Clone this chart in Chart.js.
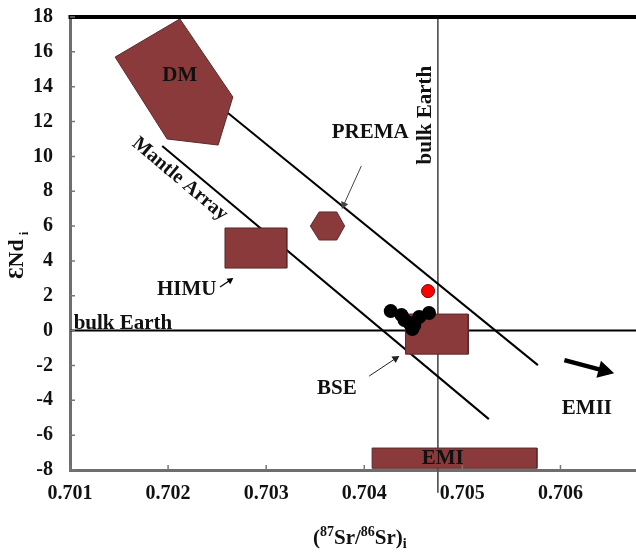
<!DOCTYPE html>
<html>
<head>
<meta charset="utf-8">
<script src="https://cdn.jsdelivr.net/npm/chart.js@4.4.1/dist/chart.umd.min.js"></script>
<style>
  html, body { margin: 0; padding: 0; background: #fff; }
  #wrap { width: 636px; height: 555px; }
</style>
</head>
<body>
<div id="wrap"><canvas id="chart"></canvas></div>
<script>
// ---- axes ----
const xTicks = [0.701, 0.702, 0.703, 0.704, 0.705, 0.706];
const yTicks = [-8, -6, -4, -2, 0, 2, 4, 6, 8, 10, 12, 14, 16, 18];

// ---- samples ----
const sampleSr = [0.70427, 0.70438, 0.70441, 0.70446, 0.70449, 0.70451, 0.70456, 0.70466];
const sampleNd = [1.12, 0.89, 0.61, 0.43, 0.09, 0.32, 0.78, 1.01];
const redSr = [0.70465];
const redNd = [2.27];

// ---- mantle reservoirs (polygon corners) ----
const dmSr = [0.70146, 0.70212, 0.70266, 0.70251, 0.70199, 0.70146];
const dmNd = [15.70, 17.89, 13.41, 10.65, 11.00, 15.70];
const premaSr = [0.70345, 0.70354, 0.70372, 0.70380, 0.70372, 0.70354, 0.70345];
const premaNd = [6.0, 6.81, 6.81, 6.0, 5.20, 5.20, 6.0];
const himuSr = [0.70258, 0.70321, 0.70321, 0.70258, 0.70258];
const himuNd = [5.89, 5.89, 3.59, 3.59, 5.89];
const bseSr = [0.70442, 0.70506, 0.70506, 0.70442, 0.70442];
const bseNd = [0.95, 0.95, -1.35, -1.35, 0.95];
const emiSr = [0.70408, 0.70576, 0.70576, 0.70408, 0.70408];
const emiNd = [-6.74, -6.74, -7.9, -7.9, -6.74];

// ---- lines ----
const premaLineSr = [0.70261, 0.70577];
const premaLineNd = [12.49, -1.98];
const mantleSr = [0.70194, 0.70527];
const mantleNd = [10.59, -5.08];
const bulkVSr = [0.70475, 0.70475];
const bulkVNd = [18, -9.3];
const bulkHSr = [0.701, 0.70677];
const bulkHNd = [0, 0];

// ---- arrows (tail -> head) ----
const arrPremaSr = [0.70397, 0.70378];
const arrPremaNd = [9.45, 7.09];
const arrHimuSr = [0.70253, 0.70265];
const arrHimuNd = [2.50, 2.96];
const arrBseSr = [0.70405, 0.70434];
const arrBseNd = [-2.61, -1.52];
const arrEmiiSr = [0.70604, 0.70650];
const arrEmiiNd = [-1.69, -2.38];

const pts = (xs, ys) => xs.map((x, i) => ({ x: x, y: ys[i] }));

const FONT = '"Liberation Serif", "Times New Roman", serif';
const BROWN = 'rgb(138,58,58)';

function field(xs, ys) {
  return {
    data: pts(xs, ys), showLine: true, fill: 'shape', tension: 0,
    backgroundColor: BROWN, borderColor: '#5a2a2a', borderWidth: 1,
    pointRadius: 0, order: 1
  };
}
function line(xs, ys, w, color, extra) {
  return Object.assign({
    data: pts(xs, ys), showLine: true, fill: false, tension: 0,
    borderColor: color, borderWidth: w, pointRadius: 0, order: 3
  }, extra || {});
}

const datasets = [
  { data: pts(redSr, redNd), showLine: false, pointRadius: 6.5, backgroundColor: '#ff0000', borderColor: '#700', borderWidth: 1, order: 0 },
  { data: pts(sampleSr, sampleNd), showLine: false, pointRadius: 7, backgroundColor: '#000', borderColor: '#000', borderWidth: 0, order: 0 },
  field(dmSr, dmNd),
  field(premaSr, premaNd),
  field(himuSr, himuNd),
  field(bseSr, bseNd),
  field(emiSr, emiNd),
  line(premaLineSr, premaLineNd, 2, '#000'),
  line(mantleSr, mantleNd, 2, '#000'),
  line(bulkHSr, bulkHNd, 2, '#000'),
  line(bulkVSr, bulkVNd, 1, '#555', { clip: false }),
  line(arrPremaSr, arrPremaNd, 1, '#444', { arrowHead: 7, order: 2 }),
  line(arrHimuSr, arrHimuNd, 1.2, '#000', { arrowHead: 6, order: 2 }),
  line(arrBseSr, arrBseNd, 1, '#222', { arrowHead: 7, order: 2 }),
  line(arrEmiiSr, arrEmiiNd, 4.5, '#000', { arrowHead: 16, order: 2 })
];

// text labels placed in data coordinates
const labels = [
  { text: 'DM', x: 0.70212, y: 14.65 },
  { text: 'PREMA', x: 0.70406, y: 11.34 },
  { text: 'bulk Earth', x: 0.70462, y: 12.37, rot: -90 },
  { text: 'HIMU', x: 0.70219, y: 2.33 },
  { text: 'bulk Earth', x: 0.70154, y: 0.42 },
  { text: 'BSE', x: 0.70372, y: -3.3 },
  { text: 'EMII', x: 0.70627, y: -4.5 },
  { text: 'EMI', x: 0.70480, y: -7.35 },
  { text: 'Mantle Array', x: 0.70212, y: 8.7, rot: 40, size: 20 }
];

const decor = {
  id: 'decor',
  afterDatasetsDraw(chart) {
    const ctx = chart.ctx;
    const xs = chart.scales.x, ys = chart.scales.y;
    const area = chart.chartArea;
    ctx.save();

    // arrow heads
    chart.data.datasets.forEach((ds, i) => {
      if (!ds.arrowHead) return;
      const meta = chart.getDatasetMeta(i);
      const a = meta.data[meta.data.length - 2], b = meta.data[meta.data.length - 1];
      const ang = Math.atan2(b.y - a.y, b.x - a.x);
      const L = ds.arrowHead, W = ds.arrowHead * 0.55;
      ctx.fillStyle = ds.borderColor;
      ctx.beginPath();
      ctx.moveTo(b.x + Math.cos(ang) * L * 0.3, b.y + Math.sin(ang) * L * 0.3);
      ctx.lineTo(b.x - Math.cos(ang) * L * 0.7 - Math.sin(ang) * W, b.y - Math.sin(ang) * L * 0.7 + Math.cos(ang) * W);
      ctx.lineTo(b.x - Math.cos(ang) * L * 0.7 + Math.sin(ang) * W, b.y - Math.sin(ang) * L * 0.7 - Math.cos(ang) * W);
      ctx.closePath();
      ctx.fill();
    });

    // labels
    ctx.fillStyle = '#111';
    ctx.textAlign = 'center';
    ctx.textBaseline = 'middle';
    labels.forEach(l => {
      ctx.save();
      ctx.font = 'bold ' + (l.size || 21) + 'px ' + FONT;
      ctx.translate(xs.getPixelForValue(l.x), ys.getPixelForValue(l.y));
      if (l.rot) ctx.rotate(l.rot * Math.PI / 180);
      ctx.fillText(l.text, 0, 0);
      ctx.restore();
    });

    // top frame line
    ctx.strokeStyle = '#000';
    ctx.lineWidth = 4;
    ctx.beginPath();
    ctx.moveTo(area.left - 1.5, area.top);
    ctx.lineTo(area.right, area.top);
    ctx.stroke();

    // inner tick marks
    ctx.strokeStyle = '#777';
    ctx.lineWidth = 1.5;
    ctx.beginPath();
    xTicks.forEach(v => {
      const px = xs.getPixelForValue(v);
      ctx.moveTo(px, area.bottom);
      ctx.lineTo(px, area.bottom - 5);
    });
    yTicks.forEach(v => {
      const py = ys.getPixelForValue(v);
      ctx.moveTo(area.left, py);
      ctx.lineTo(area.left + 5, py);
    });
    ctx.stroke();

    // y title: ƐNd i
    ctx.fillStyle = '#111';
    ctx.textAlign = 'left';
    ctx.textBaseline = 'alphabetic';
    ctx.save();
    ctx.translate(23, 279);
    ctx.rotate(-Math.PI / 2);
    ctx.font = 'bold 22px ' + FONT;
    ctx.fillText('ƐNd', 0, 0);
    const w = ctx.measureText('ƐNd').width;
    ctx.font = 'bold 13px ' + FONT;
    ctx.fillText('i', w + 4, 5);
    ctx.restore();

    // x title: (87Sr/86Sr)i
    const parts = [
      { t: '(', s: 21, dy: 0 }, { t: '87', s: 14, dy: -8 }, { t: 'Sr/', s: 21, dy: 0 },
      { t: '86', s: 14, dy: -8 }, { t: 'Sr)', s: 21, dy: 0 }, { t: 'i', s: 14, dy: 4 }
    ];
    let cx = 313;
    parts.forEach(p => {
      ctx.font = 'bold ' + p.s + 'px ' + FONT;
      ctx.fillText(p.t, cx, 544 + p.dy);
      cx += ctx.measureText(p.t).width;
    });
    ctx.restore();
  }
};

new Chart(document.getElementById('chart'), {
  type: 'line',
  data: { datasets: datasets },
  options: {
    responsive: true,
    maintainAspectRatio: false,
    animation: false,
    layout: { autoPadding: false, padding: { top: 17, right: 0, left: 0, bottom: 0 } },
    plugins: { legend: { display: false }, tooltip: { enabled: false } },
    scales: {
      x: {
        type: 'linear', min: 0.701, max: 0.70677,
        grid: { display: false, drawTicks: false },
        border: { display: true, color: '#6e6e6e', width: 3 },
        afterBuildTicks: s => { s.ticks = xTicks.map(v => ({ value: v })); },
        afterFit: s => { s.height = 85; s.paddingLeft = 0; s.paddingRight = 0; },
        ticks: {
          autoSkip: false, maxRotation: 0, padding: 12, color: '#111',
          font: { family: FONT, size: 20, weight: 'bold' },
          callback: v => v.toFixed(3)
        }
      },
      y: {
        type: 'linear', min: -8, max: 18,
        grid: { display: false, drawTicks: false },
        border: { display: true, color: '#6e6e6e', width: 3 },
        afterBuildTicks: s => { s.ticks = yTicks.map(v => ({ value: v })); },
        afterFit: s => { s.width = 70; s.paddingTop = 0; s.paddingBottom = 0; },
        ticks: {
          padding: 17, color: '#111',
          font: { family: FONT, size: 20, weight: 'bold' }
        }
      }
    }
  },
  plugins: [decor]
});
</script>
</body>
</html>
